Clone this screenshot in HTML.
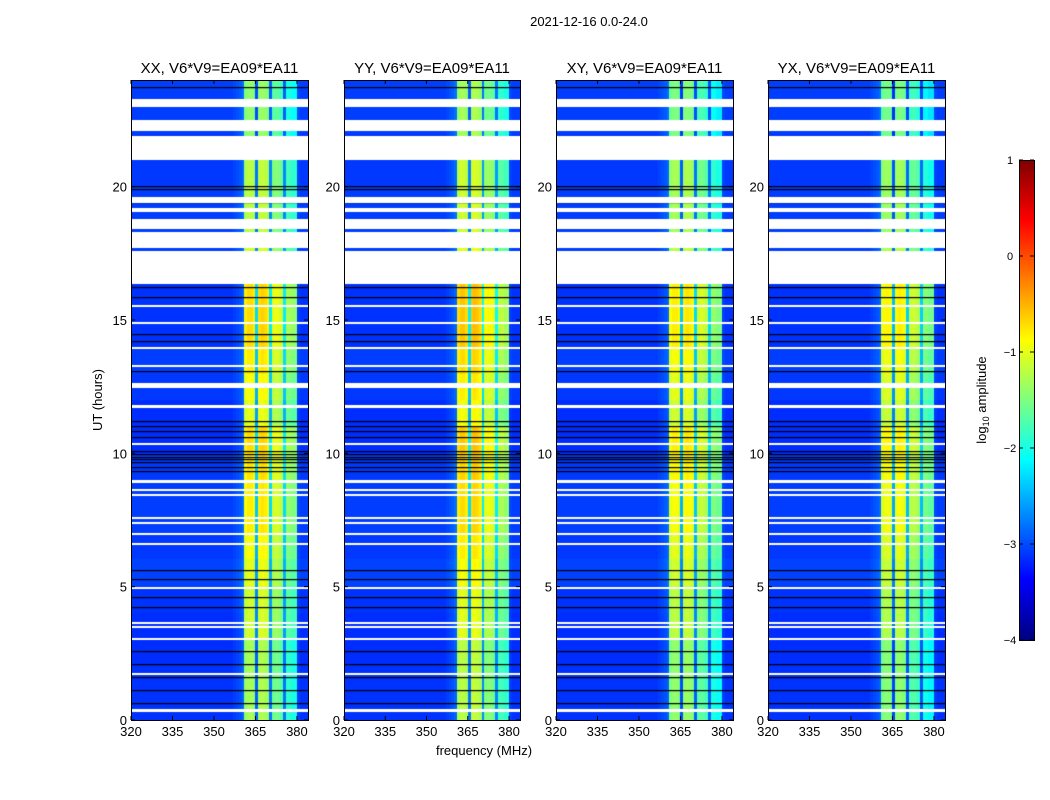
<!DOCTYPE html>
<html><head><meta charset="utf-8"><style>
body{margin:0;background:#fff;width:1050px;height:800px;overflow:hidden;font-family:"Liberation Sans",sans-serif}
canvas{position:absolute}
svg{position:absolute;left:0;top:0}
</style></head><body>
<canvas id="c0" width="177" height="640" style="left:131px;top:80px"></canvas>
<canvas id="c1" width="176" height="640" style="left:344px;top:80px"></canvas>
<canvas id="c2" width="177" height="640" style="left:556px;top:80px"></canvas>
<canvas id="c3" width="177" height="640" style="left:768px;top:80px"></canvas>
<canvas id="cb" width="15" height="480" style="left:1019px;top:160px"></canvas>
<svg id="ax" width="1050" height="800"></svg>
<script>
// ---- data ----
const panelTitles=["XX, V6*V9=EA09*EA11","YY, V6*V9=EA09*EA11","XY, V6*V9=EA09*EA11","YX, V6*V9=EA09*EA11"];
const panelGain=[0,0.1,-0.1,-0.15];
const freqStart=320, freqStep=1;
// log10 amplitude per 1-MHz channel (320..383)
const channelLevel=[-3.15,-3.15,-3.15,-3.15,-3.15,-3.15,-3.15,-3.15,-3.15,-3.15,-3.15,-3.15,-3.15,-3.15,-3.15,-3.15,-3.15,-3.15,-3.15,-3.15,
-3.15,-3.15,-3.15,-3.15,-3.15,-3.15,-3.15,-3.15,-3.15,-3.15,-3.15,-3.15,-3.15,-3.15,-3.15,-3.15,-3.15,-3.1,-3.05,-3.0,
-2.9,-1.1,-1.0,-1.0,-1.1,-2.6,-1.0,-0.95,-1.0,-1.1,-2.5,-1.3,-1.25,-1.3,-1.4,-2.5,-1.6,-1.6,-1.7,-1.7,
-3.1,-3.15,-3.15,-3.15];
// band brightness boost per hour 0..23
const hourBoost=[-0.3,-0.3,-0.3,-0.1,-0.1,0.0,0.1,0.2,0.2,0.25,0.3,0.0,0.1,0.2,0.3,0.3,0.3,-0.1,-0.2,-0.2,-0.2,-0.4,-0.4,-0.4];
// background offset per hour
const hourBg=[0.05,0.05,0.0,0.0,0.05,0.2,0.1,0.15,0.15,0.1,0.0,0.0,0.1,0.15,0.05,0.05,0.05,0.15,0.15,0.15,0.1,0.1,0.15,0.15];
// flagged (white) intervals in hours
const gapStart=[23.0,22.1,21.0,19.4,19.05,18.4,17.7,16.35,15.52,14.87,13.92,13.27,12.45,11.7,10.3,8.9,8.63,8.43,7.58,7.38,6.98,6.58,4.93,3.63,3.48,3.01,1.73,0.3];
const gapEnd=[23.3,22.5,21.9,19.6,19.2,18.8,18.3,17.6,15.58,14.93,13.98,13.33,12.65,11.8,10.4,9.0,8.68,8.48,7.63,7.43,7.03,6.63,4.99,3.68,3.53,3.06,1.78,0.4];
// dark rows (hours)
const darkRows=[23.7,20.0,19.9,19.4,16.2,15.85,14.45,14.2,13.05,11.2,11.0,10.8,10.6,10.05,9.95,9.85,9.75,9.65,9.45,9.3,5.6,5.25,4.6,4.2,3.67,2.55,2.06,1.6,1.1,0.6];
const xTicks=[320,335,350,365,380];
const yTicks=[0,5,10,15,20];
const cbTicks=[1,0,-1,-2,-3,-4];
// ---- scales ----
const tMax=24, fMin=320, fMax=384, vMin=-4, vMax=1;
function jet(v){let t=(v-vMin)/(vMax-vMin);t=Math.max(0,Math.min(1,t));
 const r=Math.min(1,Math.max(0,1.5-Math.abs(4*t-3))),g=Math.min(1,Math.max(0,1.5-Math.abs(4*t-2))),b=Math.min(1,Math.max(0,1.5-Math.abs(4*t-1)));
 return `rgb(${r*255|0},${g*255|0},${b*255|0})`;}
const boxes=[[131,308],[344,520],[556,733],[768,945]];
const plotTop=80,plotBot=720;
function yOf(h){return plotBot-(h/tMax)*(plotBot-plotTop);}
function xOf(f,i){const[a,b]=boxes[i];return a+(f-fMin)/(fMax-fMin)*(b-a);}
// ---- heatmaps ----
const dt=0.05;
boxes.forEach((bx,i)=>{
 const cv=document.getElementById('c'+i),ctx=cv.getContext('2d');
 for(let t=0;t<tMax;t+=dt){
  const h=Math.min(23,Math.floor(t));
  const y0=Math.floor(yOf(t+dt)-plotTop),y1=Math.ceil(yOf(t)-plotTop);
  for(let c=0;c<channelLevel.length;c++){
   const f=freqStart+c*freqStep;
   let v=channelLevel[c];
   if(v>-2.7) v+=hourBoost[h]+panelGain[i]; else v+=hourBg[h]*0.5;
   ctx.fillStyle=jet(v);
   const x0=Math.round(xOf(f,i)-bx[0]),x1=Math.round(xOf(f+freqStep,i)-bx[0]);
   ctx.fillRect(x0,y0,x1-x0,y1-y0);
  }
 }
 ctx.fillStyle='#000';
 darkRows.forEach(r=>{ctx.fillRect(0,Math.round(yOf(r)-plotTop-0.6),cv.width,1.2);});
 ctx.fillStyle='#fff';
 gapStart.forEach((s,k)=>{const ya=Math.round(yOf(gapEnd[k])-plotTop),yb=Math.round(yOf(s)-plotTop);ctx.fillRect(0,ya,cv.width,Math.max(2,yb-ya));});
});
// colorbar
(function(){const cv=document.getElementById('cb'),ctx=cv.getContext('2d');
 for(let y=0;y<480;y++){ctx.fillStyle=jet(vMax-(y+0.5)/480*(vMax-vMin));ctx.fillRect(0,y,15,1);}})();
// ---- axes svg ----
const svg=document.getElementById('ax'),NS='http://www.w3.org/2000/svg';
function el(tag,attrs,txt){const e=document.createElementNS(NS,tag);for(const k in attrs)e.setAttribute(k,attrs[k]);if(txt!==undefined)e.textContent=txt;svg.appendChild(e);return e;}
let e=el('text',{x:589,y:26,'font-size':13,'text-anchor':'middle'},'2021-12-16 0.0-24.0');


boxes.forEach((bx,i)=>{
 const[a,b]=bx;
 let r=el('rect',{x:a+0.5,y:plotTop+0.5,width:b-a,height:plotBot-plotTop,fill:'none',stroke:'#000','stroke-width':1});
 
 
 let t=el('text',{x:(a+b)/2,y:73,'font-size':15,'text-anchor':'middle'},panelTitles[i]);
 
 
 xTicks.forEach(f=>{const x=xOf(f,i);
  el('line',{x1:x,x2:x,y1:plotBot,y2:plotBot-4,stroke:'#000'});el('line',{x1:x,x2:x,y1:plotTop,y2:plotTop+4,stroke:'#000'});
  let l=el('text',{x:x,y:plotBot+16,'font-size':13,'text-anchor':'middle'},f);
  
  });
 yTicks.forEach(h=>{const y=yOf(h);
  el('line',{x1:a,x2:a+4,y1:y,y2:y,stroke:'#000'});el('line',{x1:b,x2:b-4,y1:y,y2:y,stroke:'#000'});
  let l=el('text',{x:a-4,y:y+5,'font-size':13,'text-anchor':'end'},h);
  
  });
});
e=el('text',{x:484,y:755,'font-size':13,'text-anchor':'middle'},'frequency (MHz)');


e=el('text',{x:102,y:400,'font-size':13,'text-anchor':'middle',transform:'rotate(-90 102 400)'},'UT (hours)');


el('rect',{x:1019.5,y:160.5,width:15,height:480,fill:'none',stroke:'#000'});
cbTicks.forEach(v=>{const y=160+(vMax-v)/(vMax-vMin)*480;
 el('line',{x1:1019,x2:1023,y1:y,y2:y,stroke:'#000'});el('line',{x1:1034,x2:1030,y1:y,y2:y,stroke:'#000'});
 let l=el('text',{x:1010,y:y+4,'font-size':11,'text-anchor':'middle'},v<0?'\u2212'+(-v):v);
 
 });
e=el('text',{x:986,y:400,'font-size':13,'text-anchor':'middle',transform:'rotate(-90 986 400)'});


e.innerHTML='log<tspan font-size="9" dy="3">10</tspan><tspan dy="-3"> amplitude</tspan>';
</script>
</body></html>
